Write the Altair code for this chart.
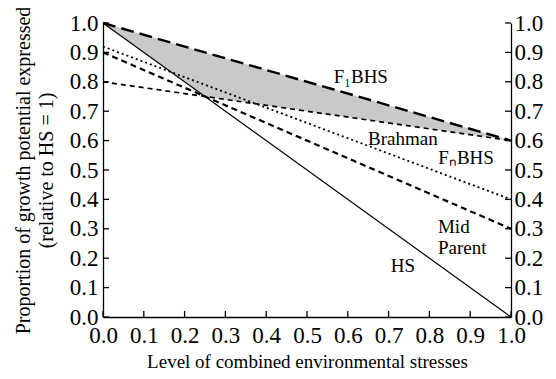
import altair as alt
import pandas as pd

# ---- data ----
x_ends = [0.0, 1.0]
hs = [1.0, 0.0]
f1bhs = [1.0, 0.6]
brahman = [0.8, 0.6]
fnbhs = [0.92, 0.4]
midparent = [0.9, 0.3]

shade_x = [0.0, 0.25, 1.0]
shade_lo = [1.0, 0.75, 0.6]
shade_hi = [1.0, 0.9, 0.6]

tick_vals = [0.0, 0.1, 0.2, 0.3, 0.4, 0.5, 0.6, 0.7, 0.8, 0.9, 1.0]

label_text = ["F\u2081BHS", "Brahman", "F\u2099BHS", "HS"]
label_x = [0.632, 0.735, 0.89, 0.735]
label_y = [0.815, 0.605, 0.54, 0.175]

mid_text = ["Mid", "Parent"]
mid_x = [0.821, 0.821]
mid_y = [0.305, 0.236]

FONT = "Liberation Serif"
W, H = 408, 294
TICK = 6

xs = alt.Scale(domain=[0, 1], nice=False)
ys = alt.Scale(domain=[0, 1], nice=False)

x_axis = alt.Axis(values=tick_vals, format=".1f", ticks=False, grid=False,
                  domainColor="black", domainWidth=1.3,
                  labelFont=FONT, labelFontSize=23, labelColor="black",
                  labelPadding=7, labelFlush=False, labelOverlap=False, labelBound=False,
                  title="Level of combined environmental stresses",
                  titleFont=FONT, titleFontSize=19, titleFontWeight="normal",
                  titleColor="black", titlePadding=5)

y_axis_left = alt.Axis(values=tick_vals, format=".1f", grid=False, ticks=False,
                       domainColor="black", domainWidth=1.3,
                       labelFont=FONT, labelFontSize=23, labelColor="black",
                       labelPadding=5, labelFlush=False, labelOverlap=False, labelBound=False,
                       title=["Proportion of growth potential expressed", "(relative to HS = 1)"],
                       titleFont=FONT, titleFontSize=20, titleFontWeight="normal",
                       titleColor="black", titlePadding=13, titleLineHeight=23)

y_axis_right = alt.Axis(values=tick_vals, format=".1f", grid=False, orient="right",
                        ticks=False, domainColor="black", domainWidth=1.3,
                        labelFont=FONT, labelFontSize=23, labelColor="black",
                        labelPadding=3, labelFlush=False, labelOverlap=False, labelBound=False,
                        title=None)


def X(field):
    return alt.X(field, scale=xs, axis=x_axis)


def Y(field):
    return alt.Y(field, scale=ys, axis=y_axis_left)


def line_df(vals):
    return pd.DataFrame({"x": x_ends, "y": vals})


shade_df = pd.DataFrame({"x": shade_x, "lo": shade_lo, "hi": shade_hi})
shade = alt.Chart(shade_df).mark_area(color="#c6c6c6", opacity=0.95).encode(
    x=X("x:Q"), y=Y("lo:Q"), y2="hi:Q",
)

styles = [
    (hs, dict(strokeWidth=1.2)),
    (f1bhs, dict(strokeWidth=2.4, strokeDash=[13, 6])),
    (brahman, dict(strokeWidth=1.7, strokeDash=[5, 4])),
    (fnbhs, dict(strokeWidth=1.8, strokeDash=[2, 3])),
    (midparent, dict(strokeWidth=2.2, strokeDash=[6, 4])),
]
lines = [
    alt.Chart(line_df(v)).mark_line(color="black", **s).encode(x=X("x:Q"), y=Y("y:Q"))
    for v, s in styles
]

lab_df = pd.DataFrame({"x": label_x, "y": label_y, "t": label_text})
labels = alt.Chart(lab_df).mark_text(font=FONT, fontSize=19, color="black").encode(
    x=X("x:Q"), y=Y("y:Q"), text="t:N"
)
mid_df = pd.DataFrame({"x": mid_x, "y": mid_y, "t": mid_text})
mid_labels = alt.Chart(mid_df).mark_text(font=FONT, fontSize=19, color="black", align="left").encode(
    x=X("x:Q"), y=Y("y:Q"), text="t:N"
)

tick_df = pd.DataFrame({"v": tick_vals})
bottom_ticks = alt.Chart(tick_df).mark_rule(color="black", strokeWidth=1.3).encode(
    x=X("v:Q"), y=alt.value(H), y2=alt.value(H - TICK)
)
left_ticks = alt.Chart(tick_df).mark_rule(color="black", strokeWidth=1.3).encode(
    y=Y("v:Q"), x=alt.value(0), x2=alt.value(TICK)
)
right_ticks = alt.Chart(tick_df).mark_rule(color="black", strokeWidth=1.3).encode(
    y=Y("v:Q"), x=alt.value(W), x2=alt.value(W - TICK)
)

main = alt.layer(shade, *lines, labels, mid_labels, bottom_ticks, left_ticks, right_ticks)

right_axis = alt.Chart(tick_df).mark_point(opacity=0).encode(
    y=alt.Y("v:Q", scale=ys, axis=y_axis_right)
)

chart = alt.layer(main, right_axis).resolve_scale(y="independent").properties(
    width=W, height=H,
    autosize=alt.AutoSizeParams(type="none"),
    padding={"left": 95, "top": 15, "right": 37, "bottom": 54},
    background="white",
).configure_view(stroke=None).configure_axis(labelOverlap=False)

chart.save("out.html", embed_options={"renderer": "svg", "actions": False})
